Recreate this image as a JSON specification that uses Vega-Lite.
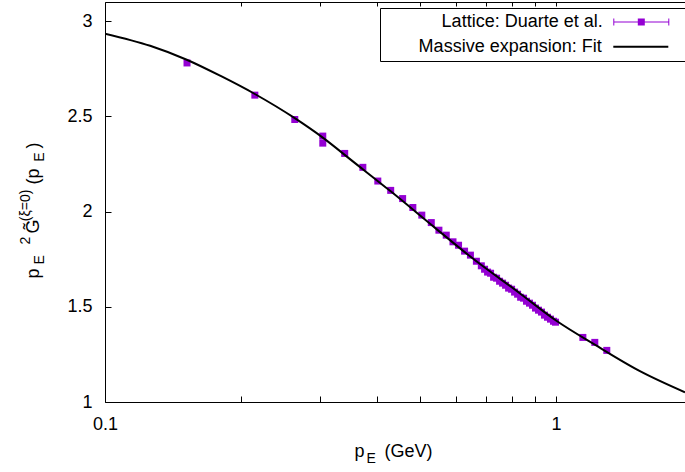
{
  "$schema": "https://vega.github.io/schema/vega-lite/v6.json",
  "width": 580,
  "height": 400,
  "autosize": {"type": "none"},
  "padding": {"left": 105, "top": 2, "right": 0, "bottom": 70},
  "background": "white",
  "config": {
    "font": "Liberation Sans",
    "view": {"stroke": null},
    "axis": {
      "grid": false,
      "domainColor": "#000000",
      "tickColor": "#000000",
      "labelColor": "#000000",
      "titleColor": "#000000",
      "titleFontWeight": "normal",
      "labelFont": "Liberation Sans",
      "titleFont": "Liberation Sans",
      "labelFontSize": 18,
      "titleFontSize": 18,
      "domainWidth": 1,
      "tickWidth": 1
    }
  },
  "datasets": {
    "fit": [
      {"p": 0.1, "g": 2.934, "series": "Massive expansion: Fit"},
      {"p": 0.1259, "g": 2.870, "series": "Massive expansion: Fit"},
      {"p": 0.1518, "g": 2.797, "series": "Massive expansion: Fit"},
      {"p": 0.18, "g": 2.713, "series": "Massive expansion: Fit"},
      {"p": 0.2149, "g": 2.617, "series": "Massive expansion: Fit"},
      {"p": 0.2635, "g": 2.490, "series": "Massive expansion: Fit"},
      {"p": 0.304, "g": 2.388, "series": "Massive expansion: Fit"},
      {"p": 0.355, "g": 2.262, "series": "Massive expansion: Fit"},
      {"p": 0.43, "g": 2.106, "series": "Massive expansion: Fit"},
      {"p": 0.537, "g": 1.918, "series": "Massive expansion: Fit"},
      {"p": 0.6444, "g": 1.765, "series": "Massive expansion: Fit"},
      {"p": 0.832, "g": 1.570, "series": "Massive expansion: Fit"},
      {"p": 1.0, "g": 1.428, "series": "Massive expansion: Fit"},
      {"p": 1.219, "g": 1.301, "series": "Massive expansion: Fit"},
      {"p": 1.535, "g": 1.162, "series": "Massive expansion: Fit"},
      {"p": 1.932, "g": 1.051, "series": "Massive expansion: Fit"}
    ],
    "lattice": [
      {"p": 0.152, "g": 2.780, "lo": 2.772, "hi": 2.788, "series": "Lattice: Duarte et al."},
      {"p": 0.2149, "g": 2.611, "lo": 2.603, "hi": 2.619, "series": "Lattice: Duarte et al."},
      {"p": 0.2635, "g": 2.483, "lo": 2.475, "hi": 2.491, "series": "Lattice: Duarte et al."},
      {"p": 0.304, "g": 2.396, "lo": 2.388, "hi": 2.404, "series": "Lattice: Duarte et al."},
      {"p": 0.304, "g": 2.359, "lo": 2.351, "hi": 2.367, "series": "Lattice: Duarte et al."},
      {"p": 0.340, "g": 2.305, "lo": 2.297, "hi": 2.313, "series": "Lattice: Duarte et al."},
      {"p": 0.373, "g": 2.232, "lo": 2.224, "hi": 2.240, "series": "Lattice: Duarte et al."},
      {"p": 0.4026, "g": 2.160, "lo": 2.146, "hi": 2.174, "series": "Lattice: Duarte et al."},
      {"p": 0.430, "g": 2.111, "lo": 2.103, "hi": 2.119, "series": "Lattice: Duarte et al."},
      {"p": 0.457, "g": 2.068, "lo": 2.060, "hi": 2.076, "series": "Lattice: Duarte et al."},
      {"p": 0.4815, "g": 2.021, "lo": 2.007, "hi": 2.035, "series": "Lattice: Duarte et al."},
      {"p": 0.504, "g": 1.981, "lo": 1.973, "hi": 1.989, "series": "Lattice: Duarte et al."},
      {"p": 0.529, "g": 1.942, "lo": 1.928, "hi": 1.956, "series": "Lattice: Duarte et al."},
      {"p": 0.550, "g": 1.902, "lo": 1.894, "hi": 1.910, "series": "Lattice: Duarte et al."},
      {"p": 0.571, "g": 1.876, "lo": 1.868, "hi": 1.884, "series": "Lattice: Duarte et al."},
      {"p": 0.591, "g": 1.841, "lo": 1.827, "hi": 1.855, "series": "Lattice: Duarte et al."},
      {"p": 0.608, "g": 1.823, "lo": 1.815, "hi": 1.831, "series": "Lattice: Duarte et al."},
      {"p": 0.627, "g": 1.792, "lo": 1.784, "hi": 1.800, "series": "Lattice: Duarte et al."},
      {"p": 0.646, "g": 1.771, "lo": 1.763, "hi": 1.779, "series": "Lattice: Duarte et al."},
      {"p": 0.666, "g": 1.739, "lo": 1.731, "hi": 1.747, "series": "Lattice: Duarte et al."},
      {"p": 0.683, "g": 1.715, "lo": 1.707, "hi": 1.723, "series": "Lattice: Duarte et al."},
      {"p": 0.6944, "g": 1.697, "lo": 1.689, "hi": 1.705, "series": "Lattice: Duarte et al."},
      {"p": 0.7051, "g": 1.682, "lo": 1.674, "hi": 1.690, "series": "Lattice: Duarte et al."},
      {"p": 0.7160, "g": 1.676, "lo": 1.662, "hi": 1.690, "series": "Lattice: Duarte et al."},
      {"p": 0.7271, "g": 1.655, "lo": 1.647, "hi": 1.663, "series": "Lattice: Duarte et al."},
      {"p": 0.7383, "g": 1.650, "lo": 1.642, "hi": 1.658, "series": "Lattice: Duarte et al."},
      {"p": 0.7497, "g": 1.634, "lo": 1.626, "hi": 1.642, "series": "Lattice: Duarte et al."},
      {"p": 0.7613, "g": 1.624, "lo": 1.610, "hi": 1.638, "series": "Lattice: Duarte et al."},
      {"p": 0.7730, "g": 1.613, "lo": 1.605, "hi": 1.621, "series": "Lattice: Duarte et al."},
      {"p": 0.7850, "g": 1.598, "lo": 1.590, "hi": 1.606, "series": "Lattice: Duarte et al."},
      {"p": 0.7971, "g": 1.592, "lo": 1.584, "hi": 1.600, "series": "Lattice: Duarte et al."},
      {"p": 0.8094, "g": 1.577, "lo": 1.569, "hi": 1.585, "series": "Lattice: Duarte et al."},
      {"p": 0.8219, "g": 1.566, "lo": 1.558, "hi": 1.574, "series": "Lattice: Duarte et al."},
      {"p": 0.8347, "g": 1.550, "lo": 1.542, "hi": 1.558, "series": "Lattice: Duarte et al."},
      {"p": 0.8473, "g": 1.545, "lo": 1.537, "hi": 1.553, "series": "Lattice: Duarte et al."},
      {"p": 0.8602, "g": 1.529, "lo": 1.521, "hi": 1.537, "series": "Lattice: Duarte et al."},
      {"p": 0.8735, "g": 1.519, "lo": 1.511, "hi": 1.527, "series": "Lattice: Duarte et al."},
      {"p": 0.8869, "g": 1.508, "lo": 1.500, "hi": 1.516, "series": "Lattice: Duarte et al."},
      {"p": 0.9006, "g": 1.493, "lo": 1.485, "hi": 1.501, "series": "Lattice: Duarte et al."},
      {"p": 0.9146, "g": 1.482, "lo": 1.474, "hi": 1.490, "series": "Lattice: Duarte et al."},
      {"p": 0.9287, "g": 1.472, "lo": 1.464, "hi": 1.480, "series": "Lattice: Duarte et al."},
      {"p": 0.9430, "g": 1.456, "lo": 1.448, "hi": 1.464, "series": "Lattice: Duarte et al."},
      {"p": 0.9575, "g": 1.445, "lo": 1.437, "hi": 1.453, "series": "Lattice: Duarte et al."},
      {"p": 0.9723, "g": 1.435, "lo": 1.427, "hi": 1.443, "series": "Lattice: Duarte et al."},
      {"p": 0.9873, "g": 1.424, "lo": 1.416, "hi": 1.432, "series": "Lattice: Duarte et al."},
      {"p": 0.9974, "g": 1.419, "lo": 1.411, "hi": 1.427, "series": "Lattice: Duarte et al."},
      {"p": 1.147, "g": 1.339, "lo": 1.331, "hi": 1.347, "series": "Lattice: Duarte et al."},
      {"p": 1.219, "g": 1.313, "lo": 1.305, "hi": 1.321, "series": "Lattice: Duarte et al."},
      {"p": 1.296, "g": 1.271, "lo": 1.263, "hi": 1.279, "series": "Lattice: Duarte et al."}
    ]
  },
  "layer": [
    {
      "data": {"name": "lattice"},
      "mark": {"type": "rule", "color": "#9400d3", "strokeWidth": 1},
      "encoding": {
        "x": {
          "field": "p", "type": "quantitative",
          "scale": {"type": "log", "domain": [0.1, 1.932], "nice": false},
          "axis": {
            "orient": "top", "values": [0.1, 0.2, 0.3, 0.4, 0.5, 0.6, 0.7, 0.8, 0.9, 1],
            "labels": false, "tickSize": -4, "title": null, "domain": true,
            "encode": {"ticks": {"update": {"y2": {"signal": "abs(datum.value-1)<1e-6 ? 6 : 3"}}}}
          }
        },
        "y": {
          "field": "lo", "type": "quantitative",
          "scale": {"domain": [1, 3.1], "nice": false, "zero": false},
          "axis": {
            "orient": "left", "labels": false, "ticks": false, "domain": false,
            "title": "2\u00a0\u00a0\u00a0\u00a0(\u03be=0)", "titleFontSize": 14,
            "titleX": -76, "titleY": 242, "titleAngle": 270, "titleAlign": "left", "titleBaseline": "alphabetic"
          }
        },
        "y2": {"field": "hi"}
      }
    },
    {
      "data": {"name": "lattice"},
      "mark": {"type": "square", "filled": true, "size": 49, "opacity": 1},
      "encoding": {
        "x": {
          "field": "p", "type": "quantitative",
          "axis": {
            "orient": "bottom", "labels": false, "ticks": false, "domain": false,
            "title": "E", "titleFontSize": 14, "titleX": 261, "titleY": 60.7,
            "titleAngle": 0, "titleAlign": "left", "titleBaseline": "alphabetic"
          }
        },
        "y": {
          "field": "g", "type": "quantitative",
          "axis": {
            "orient": "left", "labels": false, "ticks": false, "domain": false,
            "title": "E\u00a0\u00a0\u00a0\u00a0\u00a0\u00a0\u00a0\u00a0\u00a0\u00a0\u00a0\u00a0\u00a0\u00a0\u00a0\u00a0\u00a0\u00a0\u00a0\u00a0\u00a0\u00a0\u00a0\u00a0E",
            "titleFontSize": 14, "titleX": -62, "titleY": 262, "titleAngle": 270,
            "titleAlign": "left", "titleBaseline": "alphabetic"
          }
        },
        "color": {
          "field": "series", "type": "nominal",
          "scale": {"domain": ["Lattice: Duarte et al."], "range": ["#9400d3"]},
          "legend": {
            "orient": "none", "legendX": 275, "legendY": 6, "title": null,
            "padding": 3, "strokeColor": "#000000",
            "symbolType": "M-2.75,-0.05H2.75V0.05H-2.75ZM-2.8,-0.35H-2.7V0.35H-2.8ZM2.7,-0.35H2.8V0.35H2.7ZM-0.35,-0.35H0.35V0.35H-0.35ZM4.02,3.55",
            "symbolSize": 400, "symbolOffset": 247.3, "labelOffset": -49.6, "labelAlign": "right",
            "labelFontSize": 18, "labelFont": "Liberation Sans", "labelColor": "#000000", "labelLimit": 400,
            "symbolOpacity": 1
          }
        }
      }
    },
    {
      "data": {"name": "fit"},
      "mark": {"type": "line", "strokeWidth": 2, "interpolate": "monotone", "clip": true},
      "encoding": {
        "x": {
          "field": "p", "type": "quantitative",
          "axis": {
            "orient": "bottom", "values": [0.1, 0.2, 0.3, 0.4, 0.5, 0.6, 0.7, 0.8, 0.9, 1],
            "labelExpr": "abs(datum.value-1)<1e-6 ? '1' : (abs(datum.value-0.1)<1e-6 ? '0.1' : '')",
            "tickSize": -6, "labelPadding": 19, "labelFlush": false, "labelOverlap": false,
            "title": "p\u00a0\u00a0\u00a0\u00a0(GeV)", "titleX": 249, "titleY": 54.7,
            "titleAngle": 0, "titleAlign": "left", "titleBaseline": "alphabetic",
            "encode": {"ticks": {"update": {"y2": {"signal": "(abs(datum.value-1)<1e-6 || abs(datum.value-0.1)<1e-6) ? -6 : -3"}}}}
          }
        },
        "y": {
          "field": "g", "type": "quantitative",
          "axis": {
            "orient": "left", "values": [1, 1.5, 2, 2.5, 3], "format": "~g",
            "tickSize": -6, "labelPadding": 19, "labelFlush": false,
            "title": "p\u00a0\u00a0\u00a0\u00a0\u00a0\u00a0\u00a0G\u0303\u00a0\u00a0\u00a0\u00a0\u00a0\u00a0\u00a0(p\u00a0\u00a0\u00a0\u00a0)",
            "titleX": -66.7, "titleY": 276, "titleAngle": 270, "titleAlign": "left", "titleBaseline": "alphabetic"
          }
        },
        "color": {
          "field": "series", "type": "nominal",
          "scale": {"domain": ["Massive expansion: Fit"], "range": ["#000000"]},
          "legend": {
            "orient": "none", "legendX": 275, "legendY": 30.7, "title": null,
            "padding": 3,
            "symbolType": "M-2.75,0H2.75",
            "symbolSize": 400, "symbolStrokeWidth": 2, "symbolOffset": 246.8, "labelOffset": -50.1, "labelAlign": "right",
            "labelFontSize": 18, "labelFont": "Liberation Sans", "labelColor": "#000000", "labelLimit": 400,
            "symbolOpacity": 1
          }
        }
      }
    }
  ],
  "resolve": {"scale": {"color": "independent"}, "axis": {"x": "independent", "y": "independent"}}
}
